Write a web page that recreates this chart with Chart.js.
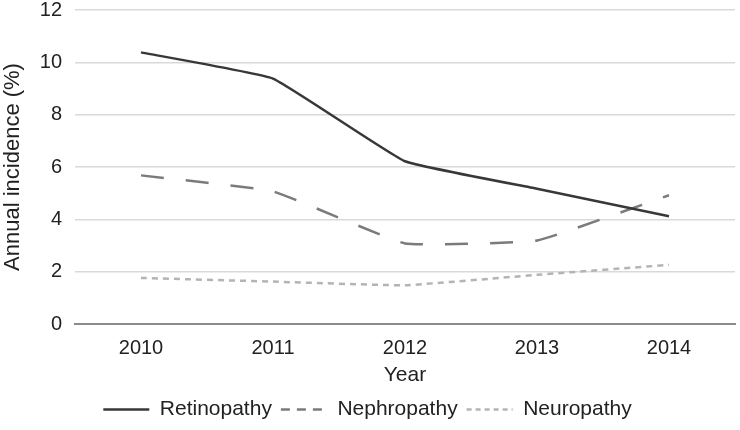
<!DOCTYPE html>
<html>
<head>
<meta charset="utf-8">
<script src="https://cdn.jsdelivr.net/npm/chart.js@4"></script>
<style>
  html, body { margin: 0; padding: 0; background: #fff; }
  #wrap { width: 740px; height: 430px; }
</style>
</head>
<body>
<div id="wrap"><canvas id="incidenceChart" width="740" height="430"></canvas></div>
<script>
const years = ["2010", "2011", "2012", "2013", "2014"];
const retinopathy = [10.38, 9.38, 6.22, 5.17, 4.12];
const nephropathy = [5.68, 5.07, 3.08, 3.19, 4.92];
const neuropathy = [1.76, 1.62, 1.48, 1.88, 2.26];
const yTicks = [0, 2, 4, 6, 8, 10, 12];

const FONT = "'Liberation Sans', Arial, sans-serif";
const TEXT = "#222";

// legend samples use shorter dashes than the plot lines
const legendDash = [[], [9, 7], [5, 4]];

document.addEventListener("DOMContentLoaded", () => {
  const ctx = document.getElementById("incidenceChart").getContext("2d");

  new Chart(ctx, {
    type: "line",
    data: {
      labels: years,
      datasets: [{
        label: "Retinopathy",
        data: retinopathy,
        borderColor: "#383838",
        backgroundColor: "#383838",
        borderWidth: 2.5,
      },
      {
        label: "Nephropathy",
        data: nephropathy,
        borderColor: "#7b7b7b",
        backgroundColor: "#7b7b7b",
        borderWidth: 2.5,
        borderDash: [23, 22],
      },
      {
        label: "Neuropathy",
        data: neuropathy,
        borderColor: "#b4b4b4",
        backgroundColor: "#b4b4b4",
        borderWidth: 2.5,
        borderDash: [6, 5],
      }],
    },
    options: {
      responsive: false,
      animation: false,
      layout: { padding: { top: 0, right: 5, bottom: 0, left: 0 } },
      elements: {
        point: { radius: 0, hoverRadius: 0 },
        line: { tension: 0.1, borderCapStyle: "butt" },
      },
      scales: {
        x: {
          offset: true,
          grid: { display: false, drawTicks: false },
          border: { display: true, color: "#8c8c8c", width: 2 },
          ticks: { color: TEXT, padding: 12, font: { family: FONT, size: 20 } },
          title: {
            display: true,
            text: "Year",
            color: TEXT,
            padding: { top: 0, bottom: 2 },
            font: { family: FONT, size: 21 },
          },
          afterFit: (scale) => { scale.height = 66; },
        },
        y: {
          min: 0,
          max: 12,
          afterBuildTicks: (axis) => {
            axis.ticks = yTicks.map(v => ({ value: v }));
          },
          grid: { color: "#d9d9d9", lineWidth: 1.5, drawTicks: false },
          border: { display: false },
          ticks: { color: TEXT, padding: 13, font: { family: FONT, size: 20 } },
          title: {
            display: true,
            text: "Annual incidence (%)",
            color: TEXT,
            padding: { top: 0, bottom: 0 },
            font: { family: FONT, size: 22 },
          },
          afterFit: (scale) => {
            scale.width = 75;
            scale.paddingTop = 10;
            scale.paddingBottom = 4;
          },
        },
      },
      plugins: {
        tooltip: { enabled: false },
        legend: {
          position: "bottom",
          labels: {
            color: TEXT,
            usePointStyle: true,
            pointStyleWidth: 46,
            padding: 9,
            font: { family: FONT, size: 21 },
            generateLabels: (chart) => {
              const items = Chart.defaults.plugins.legend.labels.generateLabels(chart);
              return items.map((item, i) => ({
                ...item,
                pointStyle: "line",
                lineWidth: 2.5,
                lineDash: legendDash[i],
                lineCap: "butt",
              }));
            },
          },
        },
      },
    },
  });
});
</script>
</body>
</html>
